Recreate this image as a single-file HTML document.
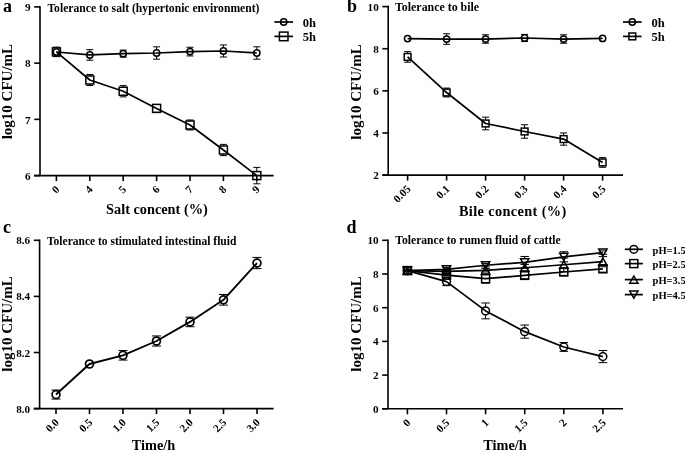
<!DOCTYPE html>
<html><head><meta charset="utf-8"><style>
html,body{margin:0;padding:0;background:#fff;}
svg{display:block;will-change:transform;filter:grayscale(1);}
text{font-family:"Liberation Serif", serif;font-weight:bold;fill:#000;}
</style></head><body>
<svg width="685" height="451" viewBox="0 0 685 451" stroke="#000" stroke-linecap="butt">
<g>
<line x1="40.00" y1="6.15" x2="40.00" y2="175.59" stroke-width="1.6"/>
<line x1="34.20" y1="175.59" x2="273.60" y2="175.59" stroke-width="1.6"/>
<line x1="34.20" y1="175.59" x2="40.00" y2="175.59" stroke-width="1.6"/>
<text stroke="none" x="30.60" y="179.80" font-size="11.2" text-anchor="end">6</text>
<line x1="34.20" y1="119.36" x2="40.00" y2="119.36" stroke-width="1.6"/>
<text stroke="none" x="30.60" y="123.57" font-size="11.2" text-anchor="end">7</text>
<line x1="34.20" y1="63.13" x2="40.00" y2="63.13" stroke-width="1.6"/>
<text stroke="none" x="30.60" y="67.34" font-size="11.2" text-anchor="end">8</text>
<line x1="34.20" y1="6.90" x2="40.00" y2="6.90" stroke-width="1.6"/>
<text stroke="none" x="30.60" y="11.11" font-size="11.2" text-anchor="end">9</text>
<line x1="56.40" y1="175.59" x2="56.40" y2="181.09" stroke-width="1.6"/>
<text stroke="none" x="60.10" y="190.09" font-size="11" text-anchor="end" transform="rotate(-45 60.10 190.09)">0</text>
<line x1="89.80" y1="175.59" x2="89.80" y2="181.09" stroke-width="1.6"/>
<text stroke="none" x="93.50" y="190.09" font-size="11" text-anchor="end" transform="rotate(-45 93.50 190.09)">4</text>
<line x1="123.20" y1="175.59" x2="123.20" y2="181.09" stroke-width="1.6"/>
<text stroke="none" x="126.90" y="190.09" font-size="11" text-anchor="end" transform="rotate(-45 126.90 190.09)">5</text>
<line x1="156.60" y1="175.59" x2="156.60" y2="181.09" stroke-width="1.6"/>
<text stroke="none" x="160.30" y="190.09" font-size="11" text-anchor="end" transform="rotate(-45 160.30 190.09)">6</text>
<line x1="190.00" y1="175.59" x2="190.00" y2="181.09" stroke-width="1.6"/>
<text stroke="none" x="193.70" y="190.09" font-size="11" text-anchor="end" transform="rotate(-45 193.70 190.09)">7</text>
<line x1="223.40" y1="175.59" x2="223.40" y2="181.09" stroke-width="1.6"/>
<text stroke="none" x="227.10" y="190.09" font-size="11" text-anchor="end" transform="rotate(-45 227.10 190.09)">8</text>
<line x1="256.80" y1="175.59" x2="256.80" y2="181.09" stroke-width="1.6"/>
<text stroke="none" x="260.50" y="190.09" font-size="11" text-anchor="end" transform="rotate(-45 260.50 190.09)">9</text>
<path d="M56.40 52.00L89.80 54.92L123.20 53.63L156.60 53.01L190.00 51.60L223.40 50.98L256.80 53.01" fill="none" stroke-width="1.7" stroke-linejoin="round"/>
<circle cx="56.40" cy="52.00" r="3.15" fill="none" stroke-width="1.5"/>
<line x1="89.80" y1="49.63" x2="89.80" y2="51.77" stroke-width="1.0"/>
<line x1="89.80" y1="58.07" x2="89.80" y2="60.21" stroke-width="1.0"/>
<line x1="86.30" y1="49.63" x2="93.30" y2="49.63" stroke-width="1.0"/>
<line x1="86.30" y1="60.21" x2="93.30" y2="60.21" stroke-width="1.0"/>
<circle cx="89.80" cy="54.92" r="3.15" fill="none" stroke-width="1.5"/>
<line x1="123.20" y1="50.14" x2="123.20" y2="50.48" stroke-width="1.0"/>
<line x1="123.20" y1="56.78" x2="123.20" y2="57.11" stroke-width="1.0"/>
<line x1="119.70" y1="50.14" x2="126.70" y2="50.14" stroke-width="1.0"/>
<line x1="119.70" y1="57.11" x2="126.70" y2="57.11" stroke-width="1.0"/>
<circle cx="123.20" cy="53.63" r="3.15" fill="none" stroke-width="1.5"/>
<line x1="156.60" y1="46.82" x2="156.60" y2="49.86" stroke-width="1.0"/>
<line x1="156.60" y1="56.16" x2="156.60" y2="59.19" stroke-width="1.0"/>
<line x1="153.10" y1="46.82" x2="160.10" y2="46.82" stroke-width="1.0"/>
<line x1="153.10" y1="59.19" x2="160.10" y2="59.19" stroke-width="1.0"/>
<circle cx="156.60" cy="53.01" r="3.15" fill="none" stroke-width="1.5"/>
<line x1="190.00" y1="47.27" x2="190.00" y2="48.45" stroke-width="1.0"/>
<line x1="190.00" y1="54.75" x2="190.00" y2="55.93" stroke-width="1.0"/>
<line x1="186.50" y1="47.27" x2="193.50" y2="47.27" stroke-width="1.0"/>
<line x1="186.50" y1="55.93" x2="193.50" y2="55.93" stroke-width="1.0"/>
<circle cx="190.00" cy="51.60" r="3.15" fill="none" stroke-width="1.5"/>
<line x1="223.40" y1="44.97" x2="223.40" y2="47.83" stroke-width="1.0"/>
<line x1="223.40" y1="54.13" x2="223.40" y2="57.00" stroke-width="1.0"/>
<line x1="219.90" y1="44.97" x2="226.90" y2="44.97" stroke-width="1.0"/>
<line x1="219.90" y1="57.00" x2="226.90" y2="57.00" stroke-width="1.0"/>
<circle cx="223.40" cy="50.98" r="3.15" fill="none" stroke-width="1.5"/>
<line x1="256.80" y1="46.82" x2="256.80" y2="49.86" stroke-width="1.0"/>
<line x1="256.80" y1="56.16" x2="256.80" y2="59.19" stroke-width="1.0"/>
<line x1="253.30" y1="46.82" x2="260.30" y2="46.82" stroke-width="1.0"/>
<line x1="253.30" y1="59.19" x2="260.30" y2="59.19" stroke-width="1.0"/>
<circle cx="256.80" cy="53.01" r="3.15" fill="none" stroke-width="1.5"/>
<path d="M56.40 51.88L89.80 80.00L123.20 91.25L156.60 108.40L190.00 124.98L223.40 150.01L256.80 175.59" fill="none" stroke-width="1.7" stroke-linejoin="round"/>
<line x1="56.40" y1="47.10" x2="56.40" y2="47.88" stroke-width="1.0"/>
<line x1="56.40" y1="55.88" x2="56.40" y2="56.66" stroke-width="1.0"/>
<line x1="52.90" y1="47.10" x2="59.90" y2="47.10" stroke-width="1.0"/>
<line x1="52.90" y1="56.66" x2="59.90" y2="56.66" stroke-width="1.0"/>
<rect x="52.40" y="47.88" width="8.0" height="8.0" fill="none" stroke-width="1.5"/>
<line x1="89.80" y1="74.49" x2="89.80" y2="76.00" stroke-width="1.0"/>
<line x1="89.80" y1="84.00" x2="89.80" y2="85.51" stroke-width="1.0"/>
<line x1="86.30" y1="74.49" x2="93.30" y2="74.49" stroke-width="1.0"/>
<line x1="86.30" y1="85.51" x2="93.30" y2="85.51" stroke-width="1.0"/>
<rect x="85.80" y="76.00" width="8.0" height="8.0" fill="none" stroke-width="1.5"/>
<line x1="123.20" y1="85.62" x2="123.20" y2="87.25" stroke-width="1.0"/>
<line x1="123.20" y1="95.25" x2="123.20" y2="96.87" stroke-width="1.0"/>
<line x1="119.70" y1="85.62" x2="126.70" y2="85.62" stroke-width="1.0"/>
<line x1="119.70" y1="96.87" x2="126.70" y2="96.87" stroke-width="1.0"/>
<rect x="119.20" y="87.25" width="8.0" height="8.0" fill="none" stroke-width="1.5"/>
<line x1="153.10" y1="104.46" x2="160.10" y2="104.46" stroke-width="1.0"/>
<line x1="153.10" y1="112.33" x2="160.10" y2="112.33" stroke-width="1.0"/>
<rect x="152.60" y="104.40" width="8.0" height="8.0" fill="none" stroke-width="1.5"/>
<line x1="190.00" y1="119.98" x2="190.00" y2="120.98" stroke-width="1.0"/>
<line x1="190.00" y1="128.98" x2="190.00" y2="129.99" stroke-width="1.0"/>
<line x1="186.50" y1="119.98" x2="193.50" y2="119.98" stroke-width="1.0"/>
<line x1="186.50" y1="129.99" x2="193.50" y2="129.99" stroke-width="1.0"/>
<rect x="186.00" y="120.98" width="8.0" height="8.0" fill="none" stroke-width="1.5"/>
<line x1="223.40" y1="144.38" x2="223.40" y2="146.01" stroke-width="1.0"/>
<line x1="223.40" y1="154.01" x2="223.40" y2="155.63" stroke-width="1.0"/>
<line x1="219.90" y1="144.38" x2="226.90" y2="144.38" stroke-width="1.0"/>
<line x1="219.90" y1="155.63" x2="226.90" y2="155.63" stroke-width="1.0"/>
<rect x="219.40" y="146.01" width="8.0" height="8.0" fill="none" stroke-width="1.5"/>
<line x1="256.80" y1="167.38" x2="256.80" y2="171.59" stroke-width="1.0"/>
<line x1="256.80" y1="179.59" x2="256.80" y2="183.80" stroke-width="1.0"/>
<line x1="253.30" y1="167.38" x2="260.30" y2="167.38" stroke-width="1.0"/>
<line x1="253.30" y1="183.80" x2="260.30" y2="183.80" stroke-width="1.0"/>
<rect x="252.80" y="171.59" width="8.0" height="8.0" fill="none" stroke-width="1.5"/>
<text stroke="none" x="47.40" y="12.00" font-size="11.65" text-anchor="start">Tolerance to salt (hypertonic environment)</text>
<text stroke="none" x="156.90" y="214.00" font-size="14.3" text-anchor="middle">Salt concent (%)</text>
<text stroke="none" x="12.40" y="91.60" font-size="15" text-anchor="middle" transform="rotate(-90 12.40 91.60)">log10 CFU/mL</text>
<text stroke="none" x="3.00" y="11.80" font-size="18" text-anchor="start">a</text>
<line x1="274.40" y1="22.00" x2="293.00" y2="22.00" stroke-width="1.7"/>
<circle cx="283.70" cy="22.00" r="3.15" fill="none" stroke-width="1.5"/>
<text stroke="none" x="302.80" y="26.60" font-size="12.5" text-anchor="start">0h</text>
<line x1="274.40" y1="36.40" x2="293.00" y2="36.40" stroke-width="1.7"/>
<rect x="279.40" y="32.10" width="8.6" height="8.6" fill="none" stroke-width="1.5"/>
<text stroke="none" x="302.80" y="41.00" font-size="12.5" text-anchor="start">5h</text>
<line x1="388.20" y1="5.85" x2="388.20" y2="175.08" stroke-width="1.6"/>
<line x1="382.40" y1="175.08" x2="623.00" y2="175.08" stroke-width="1.6"/>
<line x1="382.40" y1="175.08" x2="388.20" y2="175.08" stroke-width="1.6"/>
<text stroke="none" x="378.80" y="179.09" font-size="11.2" text-anchor="end">2</text>
<line x1="382.40" y1="132.96" x2="388.20" y2="132.96" stroke-width="1.6"/>
<text stroke="none" x="378.80" y="136.97" font-size="11.2" text-anchor="end">4</text>
<line x1="382.40" y1="90.84" x2="388.20" y2="90.84" stroke-width="1.6"/>
<text stroke="none" x="378.80" y="94.85" font-size="11.2" text-anchor="end">6</text>
<line x1="382.40" y1="48.72" x2="388.20" y2="48.72" stroke-width="1.6"/>
<text stroke="none" x="378.80" y="52.73" font-size="11.2" text-anchor="end">8</text>
<line x1="382.40" y1="6.60" x2="388.20" y2="6.60" stroke-width="1.6"/>
<text stroke="none" x="378.80" y="10.61" font-size="11.2" text-anchor="end">10</text>
<line x1="407.60" y1="175.08" x2="407.60" y2="180.58" stroke-width="1.6"/>
<text stroke="none" x="411.30" y="189.58" font-size="11" text-anchor="end" transform="rotate(-45 411.30 189.58)">0.05</text>
<line x1="446.60" y1="175.08" x2="446.60" y2="180.58" stroke-width="1.6"/>
<text stroke="none" x="450.30" y="189.58" font-size="11" text-anchor="end" transform="rotate(-45 450.30 189.58)">0.1</text>
<line x1="485.60" y1="175.08" x2="485.60" y2="180.58" stroke-width="1.6"/>
<text stroke="none" x="489.30" y="189.58" font-size="11" text-anchor="end" transform="rotate(-45 489.30 189.58)">0.2</text>
<line x1="524.60" y1="175.08" x2="524.60" y2="180.58" stroke-width="1.6"/>
<text stroke="none" x="528.30" y="189.58" font-size="11" text-anchor="end" transform="rotate(-45 528.30 189.58)">0.3</text>
<line x1="563.60" y1="175.08" x2="563.60" y2="180.58" stroke-width="1.6"/>
<text stroke="none" x="567.30" y="189.58" font-size="11" text-anchor="end" transform="rotate(-45 567.30 189.58)">0.4</text>
<line x1="602.60" y1="175.08" x2="602.60" y2="180.58" stroke-width="1.6"/>
<text stroke="none" x="606.30" y="189.58" font-size="11" text-anchor="end" transform="rotate(-45 606.30 189.58)">0.5</text>
<path d="M407.60 38.61L446.60 39.03L485.60 39.03L524.60 37.98L563.60 39.03L602.60 38.40" fill="none" stroke-width="1.7" stroke-linejoin="round"/>
<circle cx="407.60" cy="38.61" r="3.15" fill="none" stroke-width="1.5"/>
<line x1="446.60" y1="33.77" x2="446.60" y2="35.88" stroke-width="1.0"/>
<line x1="446.60" y1="42.18" x2="446.60" y2="44.30" stroke-width="1.0"/>
<line x1="443.10" y1="33.77" x2="450.10" y2="33.77" stroke-width="1.0"/>
<line x1="443.10" y1="44.30" x2="450.10" y2="44.30" stroke-width="1.0"/>
<circle cx="446.60" cy="39.03" r="3.15" fill="none" stroke-width="1.5"/>
<line x1="485.60" y1="34.82" x2="485.60" y2="35.88" stroke-width="1.0"/>
<line x1="485.60" y1="42.18" x2="485.60" y2="43.24" stroke-width="1.0"/>
<line x1="482.10" y1="34.82" x2="489.10" y2="34.82" stroke-width="1.0"/>
<line x1="482.10" y1="43.24" x2="489.10" y2="43.24" stroke-width="1.0"/>
<circle cx="485.60" cy="39.03" r="3.15" fill="none" stroke-width="1.5"/>
<line x1="524.60" y1="34.40" x2="524.60" y2="34.83" stroke-width="1.0"/>
<line x1="524.60" y1="41.13" x2="524.60" y2="41.56" stroke-width="1.0"/>
<line x1="521.10" y1="34.40" x2="528.10" y2="34.40" stroke-width="1.0"/>
<line x1="521.10" y1="41.56" x2="528.10" y2="41.56" stroke-width="1.0"/>
<circle cx="524.60" cy="37.98" r="3.15" fill="none" stroke-width="1.5"/>
<line x1="563.60" y1="34.82" x2="563.60" y2="35.88" stroke-width="1.0"/>
<line x1="563.60" y1="42.18" x2="563.60" y2="43.24" stroke-width="1.0"/>
<line x1="560.10" y1="34.82" x2="567.10" y2="34.82" stroke-width="1.0"/>
<line x1="560.10" y1="43.24" x2="567.10" y2="43.24" stroke-width="1.0"/>
<circle cx="563.60" cy="39.03" r="3.15" fill="none" stroke-width="1.5"/>
<circle cx="602.60" cy="38.40" r="3.15" fill="none" stroke-width="1.5"/>
<path d="M407.60 56.93L446.60 92.52L485.60 123.48L524.60 131.49L563.60 139.07L602.60 162.44" fill="none" stroke-width="1.7" stroke-linejoin="round"/>
<line x1="407.60" y1="51.67" x2="407.60" y2="53.53" stroke-width="1.0"/>
<line x1="407.60" y1="60.33" x2="407.60" y2="62.20" stroke-width="1.0"/>
<line x1="404.10" y1="51.67" x2="411.10" y2="51.67" stroke-width="1.0"/>
<line x1="404.10" y1="62.20" x2="411.10" y2="62.20" stroke-width="1.0"/>
<rect x="404.20" y="53.53" width="6.8" height="6.8" fill="none" stroke-width="1.5"/>
<line x1="446.60" y1="88.10" x2="446.60" y2="89.12" stroke-width="1.0"/>
<line x1="446.60" y1="95.92" x2="446.60" y2="96.95" stroke-width="1.0"/>
<line x1="443.10" y1="88.10" x2="450.10" y2="88.10" stroke-width="1.0"/>
<line x1="443.10" y1="96.95" x2="450.10" y2="96.95" stroke-width="1.0"/>
<rect x="443.20" y="89.12" width="6.8" height="6.8" fill="none" stroke-width="1.5"/>
<line x1="485.60" y1="117.16" x2="485.60" y2="120.08" stroke-width="1.0"/>
<line x1="485.60" y1="126.88" x2="485.60" y2="129.80" stroke-width="1.0"/>
<line x1="482.10" y1="117.16" x2="489.10" y2="117.16" stroke-width="1.0"/>
<line x1="482.10" y1="129.80" x2="489.10" y2="129.80" stroke-width="1.0"/>
<rect x="482.20" y="120.08" width="6.8" height="6.8" fill="none" stroke-width="1.5"/>
<line x1="524.60" y1="124.75" x2="524.60" y2="128.09" stroke-width="1.0"/>
<line x1="524.60" y1="134.89" x2="524.60" y2="138.22" stroke-width="1.0"/>
<line x1="521.10" y1="124.75" x2="528.10" y2="124.75" stroke-width="1.0"/>
<line x1="521.10" y1="138.22" x2="528.10" y2="138.22" stroke-width="1.0"/>
<rect x="521.20" y="128.09" width="6.8" height="6.8" fill="none" stroke-width="1.5"/>
<line x1="563.60" y1="132.96" x2="563.60" y2="135.67" stroke-width="1.0"/>
<line x1="563.60" y1="142.47" x2="563.60" y2="145.17" stroke-width="1.0"/>
<line x1="560.10" y1="132.96" x2="567.10" y2="132.96" stroke-width="1.0"/>
<line x1="560.10" y1="145.17" x2="567.10" y2="145.17" stroke-width="1.0"/>
<rect x="560.20" y="135.67" width="6.8" height="6.8" fill="none" stroke-width="1.5"/>
<line x1="602.60" y1="157.60" x2="602.60" y2="159.04" stroke-width="1.0"/>
<line x1="602.60" y1="165.84" x2="602.60" y2="167.29" stroke-width="1.0"/>
<line x1="599.10" y1="157.60" x2="606.10" y2="157.60" stroke-width="1.0"/>
<line x1="599.10" y1="167.29" x2="606.10" y2="167.29" stroke-width="1.0"/>
<rect x="599.20" y="159.04" width="6.8" height="6.8" fill="none" stroke-width="1.5"/>
<text stroke="none" x="395.00" y="11.10" font-size="11.9" text-anchor="start">Tolerance to bile</text>
<text stroke="none" x="512.80" y="215.70" font-size="14.3" text-anchor="middle" letter-spacing="0.38">Bile concent (%)</text>
<text stroke="none" x="360.60" y="92.00" font-size="15" text-anchor="middle" transform="rotate(-90 360.60 92.00)">log10 CFU/mL</text>
<text stroke="none" x="347.00" y="11.80" font-size="18" text-anchor="start">b</text>
<line x1="623.00" y1="22.00" x2="641.60" y2="22.00" stroke-width="1.7"/>
<circle cx="632.30" cy="22.00" r="3.15" fill="none" stroke-width="1.5"/>
<text stroke="none" x="651.60" y="26.60" font-size="12.5" text-anchor="start">0h</text>
<line x1="623.00" y1="36.40" x2="641.60" y2="36.40" stroke-width="1.7"/>
<rect x="628.90" y="33.00" width="6.8" height="6.8" fill="none" stroke-width="1.5"/>
<text stroke="none" x="651.60" y="41.00" font-size="12.5" text-anchor="start">5h</text>
<line x1="39.60" y1="239.55" x2="39.60" y2="408.60" stroke-width="1.6"/>
<line x1="33.80" y1="408.60" x2="273.60" y2="408.60" stroke-width="1.6"/>
<line x1="33.80" y1="408.60" x2="39.60" y2="408.60" stroke-width="1.6"/>
<text stroke="none" x="30.20" y="412.61" font-size="11.2" text-anchor="end">8.0</text>
<line x1="33.80" y1="352.50" x2="39.60" y2="352.50" stroke-width="1.6"/>
<text stroke="none" x="30.20" y="356.51" font-size="11.2" text-anchor="end">8.2</text>
<line x1="33.80" y1="296.40" x2="39.60" y2="296.40" stroke-width="1.6"/>
<text stroke="none" x="30.20" y="300.41" font-size="11.2" text-anchor="end">8.4</text>
<line x1="33.80" y1="240.30" x2="39.60" y2="240.30" stroke-width="1.6"/>
<text stroke="none" x="30.20" y="244.31" font-size="11.2" text-anchor="end">8.6</text>
<line x1="56.00" y1="408.60" x2="56.00" y2="414.10" stroke-width="1.6"/>
<text stroke="none" x="59.70" y="423.10" font-size="11" text-anchor="end" transform="rotate(-45 59.70 423.10)">0.0</text>
<line x1="89.50" y1="408.60" x2="89.50" y2="414.10" stroke-width="1.6"/>
<text stroke="none" x="93.20" y="423.10" font-size="11" text-anchor="end" transform="rotate(-45 93.20 423.10)">0.5</text>
<line x1="123.00" y1="408.60" x2="123.00" y2="414.10" stroke-width="1.6"/>
<text stroke="none" x="126.70" y="423.10" font-size="11" text-anchor="end" transform="rotate(-45 126.70 423.10)">1.0</text>
<line x1="156.50" y1="408.60" x2="156.50" y2="414.10" stroke-width="1.6"/>
<text stroke="none" x="160.20" y="423.10" font-size="11" text-anchor="end" transform="rotate(-45 160.20 423.10)">1.5</text>
<line x1="190.00" y1="408.60" x2="190.00" y2="414.10" stroke-width="1.6"/>
<text stroke="none" x="193.70" y="423.10" font-size="11" text-anchor="end" transform="rotate(-45 193.70 423.10)">2.0</text>
<line x1="223.50" y1="408.60" x2="223.50" y2="414.10" stroke-width="1.6"/>
<text stroke="none" x="227.20" y="423.10" font-size="11" text-anchor="end" transform="rotate(-45 227.20 423.10)">2.5</text>
<line x1="257.00" y1="408.60" x2="257.00" y2="414.10" stroke-width="1.6"/>
<text stroke="none" x="260.70" y="423.10" font-size="11" text-anchor="end" transform="rotate(-45 260.70 423.10)">3.0</text>
<path d="M56.00 394.57L89.50 364.00L123.00 355.31L156.50 341.00L190.00 321.93L223.50 299.77L257.00 263.02" fill="none" stroke-width="1.9" stroke-linejoin="round"/>
<line x1="56.00" y1="390.09" x2="56.00" y2="390.62" stroke-width="1.0"/>
<line x1="56.00" y1="398.52" x2="56.00" y2="399.06" stroke-width="1.0"/>
<line x1="51.50" y1="390.09" x2="60.50" y2="390.09" stroke-width="1.0"/>
<line x1="51.50" y1="399.06" x2="60.50" y2="399.06" stroke-width="1.0"/>
<circle cx="56.00" cy="394.57" r="3.95" fill="none" stroke-width="1.7"/>
<circle cx="89.50" cy="364.00" r="3.95" fill="none" stroke-width="1.7"/>
<line x1="123.00" y1="350.54" x2="123.00" y2="351.36" stroke-width="1.0"/>
<line x1="123.00" y1="359.26" x2="123.00" y2="360.07" stroke-width="1.0"/>
<line x1="118.50" y1="350.54" x2="127.50" y2="350.54" stroke-width="1.0"/>
<line x1="118.50" y1="360.07" x2="127.50" y2="360.07" stroke-width="1.0"/>
<circle cx="123.00" cy="355.31" r="3.95" fill="none" stroke-width="1.7"/>
<line x1="156.50" y1="335.95" x2="156.50" y2="337.05" stroke-width="1.0"/>
<line x1="156.50" y1="344.95" x2="156.50" y2="346.05" stroke-width="1.0"/>
<line x1="152.00" y1="335.95" x2="161.00" y2="335.95" stroke-width="1.0"/>
<line x1="152.00" y1="346.05" x2="161.00" y2="346.05" stroke-width="1.0"/>
<circle cx="156.50" cy="341.00" r="3.95" fill="none" stroke-width="1.7"/>
<line x1="190.00" y1="317.16" x2="190.00" y2="317.98" stroke-width="1.0"/>
<line x1="190.00" y1="325.88" x2="190.00" y2="326.69" stroke-width="1.0"/>
<line x1="185.50" y1="317.16" x2="194.50" y2="317.16" stroke-width="1.0"/>
<line x1="185.50" y1="326.69" x2="194.50" y2="326.69" stroke-width="1.0"/>
<circle cx="190.00" cy="321.93" r="3.95" fill="none" stroke-width="1.7"/>
<line x1="223.50" y1="294.44" x2="223.50" y2="295.82" stroke-width="1.0"/>
<line x1="223.50" y1="303.72" x2="223.50" y2="305.10" stroke-width="1.0"/>
<line x1="219.00" y1="294.44" x2="228.00" y2="294.44" stroke-width="1.0"/>
<line x1="219.00" y1="305.10" x2="228.00" y2="305.10" stroke-width="1.0"/>
<circle cx="223.50" cy="299.77" r="3.95" fill="none" stroke-width="1.7"/>
<line x1="257.00" y1="257.41" x2="257.00" y2="259.07" stroke-width="1.0"/>
<line x1="257.00" y1="266.97" x2="257.00" y2="268.63" stroke-width="1.0"/>
<line x1="252.50" y1="257.41" x2="261.50" y2="257.41" stroke-width="1.0"/>
<line x1="252.50" y1="268.63" x2="261.50" y2="268.63" stroke-width="1.0"/>
<circle cx="257.00" cy="263.02" r="3.95" fill="none" stroke-width="1.7"/>
<text stroke="none" x="47.00" y="245.00" font-size="11.5" text-anchor="start">Tolerance to stimulated intestinal fluid</text>
<text stroke="none" x="153.50" y="450.00" font-size="14.3" text-anchor="middle">Time/h</text>
<text stroke="none" x="12.40" y="324.00" font-size="15" text-anchor="middle" transform="rotate(-90 12.40 324.00)">log10 CFU/mL</text>
<text stroke="none" x="3.00" y="233.20" font-size="18" text-anchor="start">c</text>
<line x1="388.00" y1="239.55" x2="388.00" y2="408.80" stroke-width="1.6"/>
<line x1="382.20" y1="408.80" x2="623.00" y2="408.80" stroke-width="1.6"/>
<line x1="382.20" y1="408.80" x2="388.00" y2="408.80" stroke-width="1.6"/>
<text stroke="none" x="378.60" y="412.81" font-size="11.2" text-anchor="end">0</text>
<line x1="382.20" y1="375.10" x2="388.00" y2="375.10" stroke-width="1.6"/>
<text stroke="none" x="378.60" y="379.11" font-size="11.2" text-anchor="end">2</text>
<line x1="382.20" y1="341.40" x2="388.00" y2="341.40" stroke-width="1.6"/>
<text stroke="none" x="378.60" y="345.41" font-size="11.2" text-anchor="end">4</text>
<line x1="382.20" y1="307.70" x2="388.00" y2="307.70" stroke-width="1.6"/>
<text stroke="none" x="378.60" y="311.71" font-size="11.2" text-anchor="end">6</text>
<line x1="382.20" y1="274.00" x2="388.00" y2="274.00" stroke-width="1.6"/>
<text stroke="none" x="378.60" y="278.01" font-size="11.2" text-anchor="end">8</text>
<line x1="382.20" y1="240.30" x2="388.00" y2="240.30" stroke-width="1.6"/>
<text stroke="none" x="378.60" y="244.31" font-size="11.2" text-anchor="end">10</text>
<line x1="407.40" y1="408.80" x2="407.40" y2="414.30" stroke-width="1.6"/>
<text stroke="none" x="411.10" y="423.30" font-size="11" text-anchor="end" transform="rotate(-45 411.10 423.30)">0</text>
<line x1="446.50" y1="408.80" x2="446.50" y2="414.30" stroke-width="1.6"/>
<text stroke="none" x="450.20" y="423.30" font-size="11" text-anchor="end" transform="rotate(-45 450.20 423.30)">0.5</text>
<line x1="485.60" y1="408.80" x2="485.60" y2="414.30" stroke-width="1.6"/>
<text stroke="none" x="489.30" y="423.30" font-size="11" text-anchor="end" transform="rotate(-45 489.30 423.30)">1</text>
<line x1="524.70" y1="408.80" x2="524.70" y2="414.30" stroke-width="1.6"/>
<text stroke="none" x="528.40" y="423.30" font-size="11" text-anchor="end" transform="rotate(-45 528.40 423.30)">1.5</text>
<line x1="563.80" y1="408.80" x2="563.80" y2="414.30" stroke-width="1.6"/>
<text stroke="none" x="567.50" y="423.30" font-size="11" text-anchor="end" transform="rotate(-45 567.50 423.30)">2</text>
<line x1="602.90" y1="408.80" x2="602.90" y2="414.30" stroke-width="1.6"/>
<text stroke="none" x="606.60" y="423.30" font-size="11" text-anchor="end" transform="rotate(-45 606.60 423.30)">2.5</text>
<path d="M407.40 270.63L446.50 281.58L485.60 310.90L524.70 331.63L563.80 346.96L602.90 356.57" fill="none" stroke-width="1.7" stroke-linejoin="round"/>
<line x1="403.15" y1="269.79" x2="411.65" y2="269.79" stroke-width="1.0"/>
<line x1="403.15" y1="271.47" x2="411.65" y2="271.47" stroke-width="1.0"/>
<circle cx="407.40" cy="270.63" r="3.9" fill="none" stroke-width="1.5"/>
<line x1="446.50" y1="277.54" x2="446.50" y2="277.68" stroke-width="1.0"/>
<line x1="446.50" y1="285.48" x2="446.50" y2="285.63" stroke-width="1.0"/>
<line x1="442.25" y1="277.54" x2="450.75" y2="277.54" stroke-width="1.0"/>
<line x1="442.25" y1="285.63" x2="450.75" y2="285.63" stroke-width="1.0"/>
<circle cx="446.50" cy="281.58" r="3.9" fill="none" stroke-width="1.5"/>
<line x1="485.60" y1="302.98" x2="485.60" y2="307.00" stroke-width="1.0"/>
<line x1="485.60" y1="314.80" x2="485.60" y2="318.82" stroke-width="1.0"/>
<line x1="481.35" y1="302.98" x2="489.85" y2="302.98" stroke-width="1.0"/>
<line x1="481.35" y1="318.82" x2="489.85" y2="318.82" stroke-width="1.0"/>
<circle cx="485.60" cy="310.90" r="3.9" fill="none" stroke-width="1.5"/>
<line x1="524.70" y1="325.06" x2="524.70" y2="327.73" stroke-width="1.0"/>
<line x1="524.70" y1="335.53" x2="524.70" y2="338.20" stroke-width="1.0"/>
<line x1="520.45" y1="325.06" x2="528.95" y2="325.06" stroke-width="1.0"/>
<line x1="520.45" y1="338.20" x2="528.95" y2="338.20" stroke-width="1.0"/>
<circle cx="524.70" cy="331.63" r="3.9" fill="none" stroke-width="1.5"/>
<line x1="563.80" y1="342.58" x2="563.80" y2="343.06" stroke-width="1.0"/>
<line x1="563.80" y1="350.86" x2="563.80" y2="351.34" stroke-width="1.0"/>
<line x1="559.55" y1="342.58" x2="568.05" y2="342.58" stroke-width="1.0"/>
<line x1="559.55" y1="351.34" x2="568.05" y2="351.34" stroke-width="1.0"/>
<circle cx="563.80" cy="346.96" r="3.9" fill="none" stroke-width="1.5"/>
<line x1="602.90" y1="350.50" x2="602.90" y2="352.67" stroke-width="1.0"/>
<line x1="602.90" y1="360.47" x2="602.90" y2="362.63" stroke-width="1.0"/>
<line x1="598.65" y1="350.50" x2="607.15" y2="350.50" stroke-width="1.0"/>
<line x1="598.65" y1="362.63" x2="607.15" y2="362.63" stroke-width="1.0"/>
<circle cx="602.90" cy="356.57" r="3.9" fill="none" stroke-width="1.5"/>
<path d="M407.40 270.63L446.50 275.18L485.60 278.72L524.70 275.35L563.80 271.98L602.90 268.78" fill="none" stroke-width="1.7" stroke-linejoin="round"/>
<line x1="403.15" y1="269.79" x2="411.65" y2="269.79" stroke-width="1.0"/>
<line x1="403.15" y1="271.47" x2="411.65" y2="271.47" stroke-width="1.0"/>
<rect x="403.40" y="266.63" width="8.0" height="8.0" fill="none" stroke-width="1.5"/>
<line x1="442.25" y1="273.49" x2="450.75" y2="273.49" stroke-width="1.0"/>
<line x1="442.25" y1="276.86" x2="450.75" y2="276.86" stroke-width="1.0"/>
<rect x="442.50" y="271.18" width="8.0" height="8.0" fill="none" stroke-width="1.5"/>
<line x1="485.60" y1="274.34" x2="485.60" y2="274.72" stroke-width="1.0"/>
<line x1="485.60" y1="282.72" x2="485.60" y2="283.10" stroke-width="1.0"/>
<line x1="481.35" y1="274.34" x2="489.85" y2="274.34" stroke-width="1.0"/>
<line x1="481.35" y1="283.10" x2="489.85" y2="283.10" stroke-width="1.0"/>
<rect x="481.60" y="274.72" width="8.0" height="8.0" fill="none" stroke-width="1.5"/>
<line x1="520.45" y1="271.98" x2="528.95" y2="271.98" stroke-width="1.0"/>
<line x1="520.45" y1="278.72" x2="528.95" y2="278.72" stroke-width="1.0"/>
<rect x="520.70" y="271.35" width="8.0" height="8.0" fill="none" stroke-width="1.5"/>
<line x1="559.55" y1="268.61" x2="568.05" y2="268.61" stroke-width="1.0"/>
<line x1="559.55" y1="275.35" x2="568.05" y2="275.35" stroke-width="1.0"/>
<rect x="559.80" y="267.98" width="8.0" height="8.0" fill="none" stroke-width="1.5"/>
<line x1="598.65" y1="265.41" x2="607.15" y2="265.41" stroke-width="1.0"/>
<line x1="598.65" y1="272.15" x2="607.15" y2="272.15" stroke-width="1.0"/>
<rect x="598.90" y="264.78" width="8.0" height="8.0" fill="none" stroke-width="1.5"/>
<path d="M407.40 270.63L446.50 271.47L485.60 270.29L524.70 267.77L563.80 264.73L602.90 261.70" fill="none" stroke-width="1.7" stroke-linejoin="round"/>
<line x1="403.15" y1="269.79" x2="411.65" y2="269.79" stroke-width="1.0"/>
<line x1="403.15" y1="271.47" x2="411.65" y2="271.47" stroke-width="1.0"/>
<path d="M407.40 267.03L411.54 274.23L403.26 274.23Z" fill="none" stroke-width="1.5" stroke-linejoin="miter"/>
<line x1="442.25" y1="269.79" x2="450.75" y2="269.79" stroke-width="1.0"/>
<line x1="442.25" y1="273.16" x2="450.75" y2="273.16" stroke-width="1.0"/>
<path d="M446.50 267.87L450.64 275.07L442.36 275.07Z" fill="none" stroke-width="1.5" stroke-linejoin="miter"/>
<line x1="481.35" y1="268.61" x2="489.85" y2="268.61" stroke-width="1.0"/>
<line x1="481.35" y1="271.98" x2="489.85" y2="271.98" stroke-width="1.0"/>
<path d="M485.60 266.69L489.74 273.89L481.46 273.89Z" fill="none" stroke-width="1.5" stroke-linejoin="miter"/>
<line x1="520.45" y1="264.40" x2="528.95" y2="264.40" stroke-width="1.0"/>
<line x1="520.45" y1="271.14" x2="528.95" y2="271.14" stroke-width="1.0"/>
<path d="M524.70 264.17L528.84 271.37L520.56 271.37Z" fill="none" stroke-width="1.5" stroke-linejoin="miter"/>
<line x1="563.80" y1="257.99" x2="563.80" y2="261.13" stroke-width="1.0"/>
<line x1="563.80" y1="268.33" x2="563.80" y2="271.47" stroke-width="1.0"/>
<line x1="559.55" y1="257.99" x2="568.05" y2="257.99" stroke-width="1.0"/>
<line x1="559.55" y1="271.47" x2="568.05" y2="271.47" stroke-width="1.0"/>
<path d="M563.80 261.13L567.94 268.33L559.66 268.33Z" fill="none" stroke-width="1.5" stroke-linejoin="miter"/>
<line x1="602.90" y1="256.64" x2="602.90" y2="258.10" stroke-width="1.0"/>
<line x1="602.90" y1="265.30" x2="602.90" y2="266.75" stroke-width="1.0"/>
<line x1="598.65" y1="256.64" x2="607.15" y2="256.64" stroke-width="1.0"/>
<line x1="598.65" y1="266.75" x2="607.15" y2="266.75" stroke-width="1.0"/>
<path d="M602.90 258.10L607.04 265.30L598.76 265.30Z" fill="none" stroke-width="1.5" stroke-linejoin="miter"/>
<path d="M407.40 270.63L446.50 269.28L485.60 265.24L524.70 262.37L563.80 256.81L602.90 252.60" fill="none" stroke-width="1.7" stroke-linejoin="round"/>
<line x1="403.15" y1="269.79" x2="411.65" y2="269.79" stroke-width="1.0"/>
<line x1="403.15" y1="271.47" x2="411.65" y2="271.47" stroke-width="1.0"/>
<path d="M407.40 274.23L411.54 267.03L403.26 267.03Z" fill="none" stroke-width="1.5" stroke-linejoin="miter"/>
<line x1="442.25" y1="267.60" x2="450.75" y2="267.60" stroke-width="1.0"/>
<line x1="442.25" y1="270.97" x2="450.75" y2="270.97" stroke-width="1.0"/>
<path d="M446.50 272.88L450.64 265.68L442.36 265.68Z" fill="none" stroke-width="1.5" stroke-linejoin="miter"/>
<line x1="481.35" y1="263.55" x2="489.85" y2="263.55" stroke-width="1.0"/>
<line x1="481.35" y1="266.92" x2="489.85" y2="266.92" stroke-width="1.0"/>
<path d="M485.60 268.84L489.74 261.64L481.46 261.64Z" fill="none" stroke-width="1.5" stroke-linejoin="miter"/>
<line x1="524.70" y1="256.48" x2="524.70" y2="258.77" stroke-width="1.0"/>
<line x1="524.70" y1="265.97" x2="524.70" y2="268.27" stroke-width="1.0"/>
<line x1="520.45" y1="256.48" x2="528.95" y2="256.48" stroke-width="1.0"/>
<line x1="520.45" y1="268.27" x2="528.95" y2="268.27" stroke-width="1.0"/>
<path d="M524.70 265.97L528.84 258.77L520.56 258.77Z" fill="none" stroke-width="1.5" stroke-linejoin="miter"/>
<line x1="563.80" y1="251.76" x2="563.80" y2="253.21" stroke-width="1.0"/>
<line x1="563.80" y1="260.41" x2="563.80" y2="261.87" stroke-width="1.0"/>
<line x1="559.55" y1="251.76" x2="568.05" y2="251.76" stroke-width="1.0"/>
<line x1="559.55" y1="261.87" x2="568.05" y2="261.87" stroke-width="1.0"/>
<path d="M563.80 260.41L567.94 253.21L559.66 253.21Z" fill="none" stroke-width="1.5" stroke-linejoin="miter"/>
<line x1="598.65" y1="250.92" x2="607.15" y2="250.92" stroke-width="1.0"/>
<line x1="598.65" y1="254.29" x2="607.15" y2="254.29" stroke-width="1.0"/>
<path d="M602.90 256.20L607.04 249.00L598.76 249.00Z" fill="none" stroke-width="1.5" stroke-linejoin="miter"/>
<text stroke="none" x="395.30" y="243.80" font-size="11.6" text-anchor="start">Tolerance to rumen fluid of cattle</text>
<text stroke="none" x="505.00" y="450.00" font-size="14.3" text-anchor="middle">Time/h</text>
<text stroke="none" x="360.60" y="324.00" font-size="15" text-anchor="middle" transform="rotate(-90 360.60 324.00)">log10 CFU/mL</text>
<text stroke="none" x="346.60" y="233.00" font-size="18" text-anchor="start">d</text>
<line x1="624.80" y1="249.30" x2="642.90" y2="249.30" stroke-width="1.7"/>
<circle cx="633.85" cy="249.30" r="3.9" fill="none" stroke-width="1.5"/>
<text stroke="none" x="652.60" y="253.50" font-size="10.5" text-anchor="start">pH=1.5</text>
<line x1="624.80" y1="263.60" x2="642.90" y2="263.60" stroke-width="1.7"/>
<rect x="629.85" y="259.60" width="8.0" height="8.0" fill="none" stroke-width="1.5"/>
<text stroke="none" x="652.60" y="267.80" font-size="10.5" text-anchor="start">pH=2.5</text>
<line x1="624.80" y1="279.60" x2="642.90" y2="279.60" stroke-width="1.7"/>
<path d="M633.85 276.00L637.99 283.20L629.71 283.20Z" fill="none" stroke-width="1.5" stroke-linejoin="miter"/>
<text stroke="none" x="652.60" y="283.80" font-size="10.5" text-anchor="start">pH=3.5</text>
<line x1="624.80" y1="294.60" x2="642.90" y2="294.60" stroke-width="1.7"/>
<path d="M633.85 298.20L637.99 291.00L629.71 291.00Z" fill="none" stroke-width="1.5" stroke-linejoin="miter"/>
<text stroke="none" x="652.60" y="298.80" font-size="10.5" text-anchor="start">pH=4.5</text>
</g>
</svg>
</body></html>
